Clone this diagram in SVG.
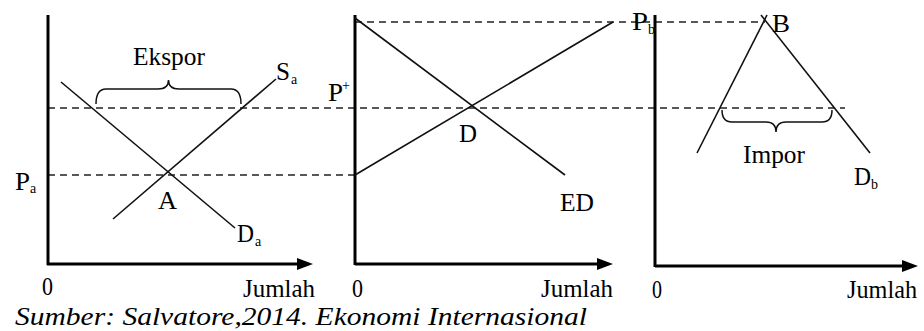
<svg xmlns="http://www.w3.org/2000/svg" width="924" height="331" viewBox="0 0 924 331" font-family="'Liberation Serif', 'DejaVu Serif', serif">
<style>
.ax{stroke:#000;stroke-width:3;fill:none}
.ln{stroke:#111;stroke-width:1.6;fill:none}
.ds{stroke:#222;stroke-width:1.6;stroke-dasharray:7 5;fill:none}
.br{stroke:#111;stroke-width:1.5;fill:none}
text{font-family:'Liberation Serif','DejaVu Serif',serif;fill:#000}
.lb{font-size:25px}
.sb{font-size:14px}
.src{font-size:25px;font-style:italic}
</style>
<defs>
<marker id="arr" markerUnits="userSpaceOnUse" markerWidth="16" markerHeight="12" refX="6" refY="6" orient="auto">
<path d="M0,0 L16,6 L0,12 z" fill="#000"/>
</marker>
</defs>
<rect width="924" height="331" fill="#fff"/>
<g id="guides">
<line class="ds" x1="48" y1="108" x2="845" y2="108"/>
<line class="ds" x1="48" y1="175" x2="354" y2="175"/>
<line class="ds" x1="355" y1="22" x2="765" y2="22"/>
</g>
<g id="panel-a">
<line class="ax" x1="48" y1="15" x2="48" y2="265"/>
<line class="ax" x1="47" y1="264" x2="303" y2="264" marker-end="url(#arr)"/>
<line class="ln" x1="61" y1="82" x2="235" y2="228"/>
<line class="ln" x1="113" y1="219" x2="276" y2="79"/>
<path class="br" d="M96,104 Q96,89 106,89 L158,89 Q168.5,89 168.5,80 Q168.5,89 179,89 L231,89 Q241,89 241,104"/>
<text class="lb" x="133" y="65" textLength="72" lengthAdjust="spacingAndGlyphs">Ekspor</text>
<text class="lb" x="276" y="80" textLength="14" lengthAdjust="spacingAndGlyphs">S</text>
<text class="sb" x="291" y="84">a</text>
<text class="lb" x="15" y="190" textLength="15" lengthAdjust="spacingAndGlyphs">P</text>
<text class="sb" x="30" y="193">a</text>
<text class="lb" x="158" y="209" textLength="19" lengthAdjust="spacingAndGlyphs">A</text>
<text class="lb" x="237" y="242" textLength="17" lengthAdjust="spacingAndGlyphs">D</text>
<text class="sb" x="255" y="246">a</text>
<text class="lb" x="42" y="295" textLength="11" lengthAdjust="spacingAndGlyphs">0</text>
<text class="lb" x="243" y="297" textLength="72" lengthAdjust="spacingAndGlyphs">Jumlah</text>
</g>
<g id="panel-world">
<line class="ax" x1="355" y1="15" x2="355" y2="265"/>
<line class="ax" x1="355" y1="264" x2="603" y2="264" marker-end="url(#arr)"/>
<line class="ln" x1="355" y1="18" x2="565" y2="175"/>
<line class="ln" x1="355" y1="175" x2="613" y2="22"/>
<text class="lb" x="328" y="101" textLength="15" lengthAdjust="spacingAndGlyphs">P</text>
<text class="sb" x="342" y="90">+</text>
<text class="lb" x="459" y="142" textLength="18" lengthAdjust="spacingAndGlyphs">D</text>
<text class="lb" x="560" y="211" textLength="34" lengthAdjust="spacingAndGlyphs">ED</text>
<text class="lb" x="352" y="297" textLength="11" lengthAdjust="spacingAndGlyphs">0</text>
<text class="lb" x="541" y="297" textLength="72" lengthAdjust="spacingAndGlyphs">Jumlah</text>
</g>
<g id="panel-b">
<line class="ax" x1="655" y1="15" x2="655" y2="267"/>
<line class="ax" x1="655" y1="266" x2="908" y2="266" marker-end="url(#arr)"/>
<line class="ln" x1="697" y1="153" x2="767" y2="15"/>
<line class="ln" x1="761" y1="15" x2="870" y2="153"/>
<path class="br" d="M722,110 Q722,122 732,122 L766,122 Q776,122 776,132 Q776,122 786,122 L822,122 Q832,122 832,110"/>
<text class="lb" x="743" y="163" textLength="62" lengthAdjust="spacingAndGlyphs">Impor</text>
<text class="lb" x="632" y="30" textLength="16" lengthAdjust="spacingAndGlyphs">P</text>
<text class="sb" x="648" y="34">b</text>
<text class="lb" x="772" y="32" textLength="18" lengthAdjust="spacingAndGlyphs">B</text>
<text class="lb" x="854" y="185" textLength="17" lengthAdjust="spacingAndGlyphs">D</text>
<text class="sb" x="871" y="189">b</text>
<text class="lb" x="652" y="298" textLength="10" lengthAdjust="spacingAndGlyphs">0</text>
<text class="lb" x="847" y="298" textLength="70" lengthAdjust="spacingAndGlyphs">Jumlah</text>
</g>
<text id="source" class="src" x="15" y="325" textLength="572" lengthAdjust="spacingAndGlyphs">Sumber: Salvatore,2014. Ekonomi Internasional</text>
</svg>
